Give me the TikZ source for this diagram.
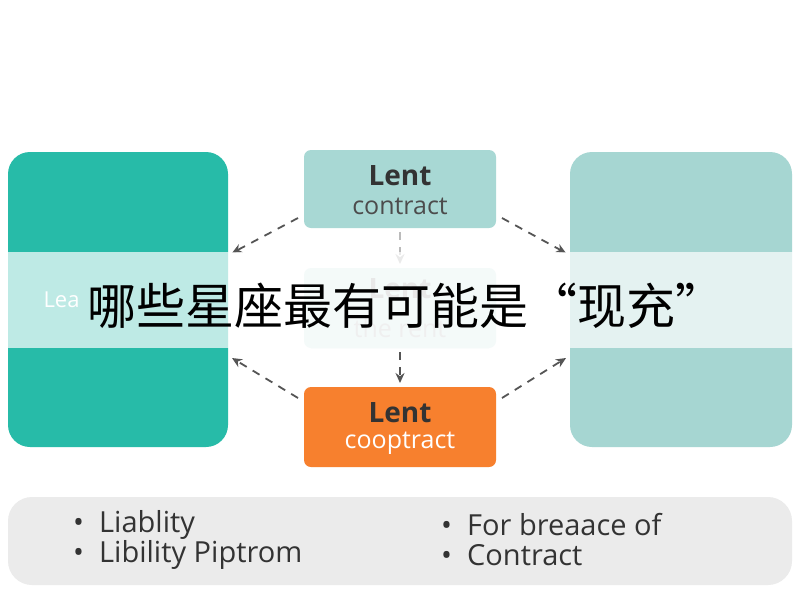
\documentclass[tikz,border=0pt]{standalone}
\usepackage{fontspec}
\setmainfont{Open Sans}
\newfontfamily\cjk{Noto Sans CJK SC}
\usetikzlibrary{arrows.meta}
\definecolor{tealA}{HTML}{27BBA8}
\definecolor{tealB}{HTML}{A8D8D4}
\definecolor{tealC}{HTML}{A6D6D2}
\definecolor{orng}{HTML}{F7802E}
\definecolor{gbox}{HTML}{EBEBEB}
\definecolor{arr}{HTML}{555555}
\begin{document}
\begin{tikzpicture}[x=1pt,y=-1pt,
  box/.style={rounded corners=22pt,draw=none},
  dsh/.style={arr,line width=1.8pt,dash pattern=on 8pt off 7pt,-{Stealth[length=10pt,width=9pt]}},
  t1/.style={font=\bfseries\fontsize{28}{30}\selectfont,text=black!80},
  t2/.style={font=\fontsize{25}{27}\selectfont},
  bl/.style={font=\fontsize{29}{32}\selectfont,text=black!80,anchor=west,inner sep=0pt}]
\useasboundingbox (0,0) rectangle (800,600);
\fill[white] (0,0) rectangle (800,600);
\node[box,fill=tealA,minimum width=220pt,minimum height=295pt] (L) at (118,299.5) {};
\node[box,fill=tealC,minimum width=222pt,minimum height=295pt] (R) at (681,299.5) {};
\node[box,fill=tealB,minimum width=192pt,minimum height=78pt,rounded corners=7pt] (T) at (400,189) {};
\node[t1] (Tt) at (400,176) {Lent};
\node[t2,text=black!70] (Tb) at (400,206) {contract};
\node[box,fill=tealB!40,minimum width=192pt,minimum height=80pt,rounded corners=7pt] (M) at (400,308) {};
\node[t1,text=black!30] (Mt) at (400,289) {Lent};
\node[t2,text=black!20] (Mb) at (400,328) {the rent};
\node[box,fill=orng,minimum width=192pt,minimum height=80pt,rounded corners=7pt] (B) at (400,427) {};
\node[t1] (Bt) at (400,413) {Lent};
\node[t2,text=white] (Bb) at (400,443) {cooptract};
\node[box,fill=gbox,minimum width=784pt,minimum height=88pt,rounded corners=24pt] (G) at (400,541) {};
\coordinate (a1) at (298,218); \coordinate (a2) at (232,253);
\coordinate (b1) at (502,218); \coordinate (b2) at (566,253);
\coordinate (c1) at (298,398); \coordinate (c2) at (232,358);
\coordinate (d1) at (502,398); \coordinate (d2) at (566,358);
\coordinate (e1) at (400,232); \coordinate (e2) at (400,264);
\coordinate (f1) at (400,352); \coordinate (f2) at (400,383);
\draw[dsh] (a1) -- (a2);
\draw[dsh] (b1) -- (b2);
\draw[dsh] (c1) -- (c2);
\draw[dsh] (d1) -- (d2);
\draw[dsh,arr!40] (e1) -- (e2);
\draw[dsh] (f1) -- (f2);
\fill[white,opacity=0.7] (0,252) rectangle (800,348);
\node[font=\fontsize{22}{24}\selectfont,text=white,anchor=west] (Lea) at (40,300) {Lea};
\node[font=\cjk\fontsize{49}{52}\selectfont,text=black,anchor=west] (title) at (84,306) {哪些星座最有可能是“现充”};
\node[bl] (g1) at (73,525) {•\ \ Liablity};
\node[bl] (g2) at (73,555) {•\ \ Libility Piptrom};
\node[bl] (g3) at (441,525) {•\ \ For breaace of};
\node[bl] (g4) at (441,555) {•\ \ Contract};
\end{tikzpicture}
\end{document}
